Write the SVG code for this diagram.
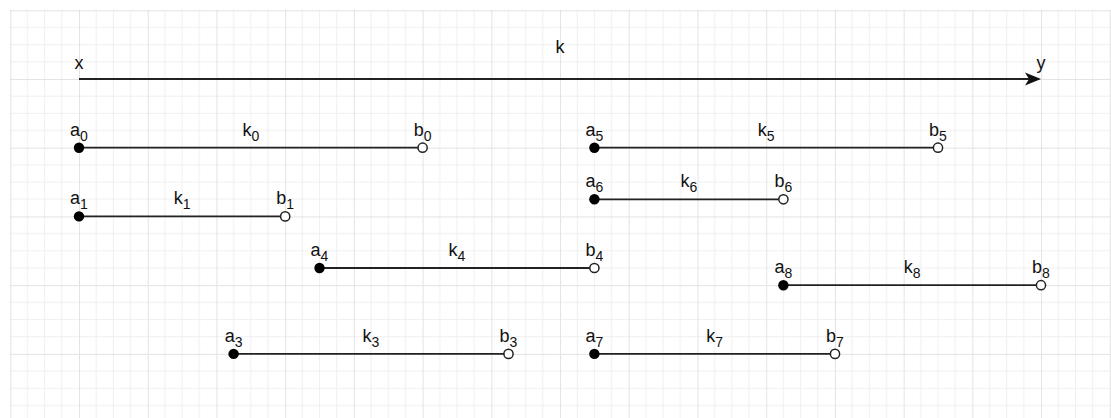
<svg xmlns="http://www.w3.org/2000/svg" width="1111" height="418" viewBox="0 0 1111 418">
  <style>
    .lbl { font-family: "Liberation Sans", Arial, Helvetica, sans-serif; font-size: 18px; fill: #111; text-anchor: middle; }
    .sub { font-size: 14px; }
    .seg { stroke: #222; stroke-width: 1.8; fill: none; }
    .dot { fill: #000; }
    .ring { fill: #fff; stroke: #222; stroke-width: 1.5; }
  </style>
  <defs>
    <!-- 17.18 px minor grid, major line every 4 cells -->
    <pattern id="grid" patternUnits="userSpaceOnUse" x="10.28" y="10.28" width="68.72" height="68.72">
      <path d="M17.18 0V68.72M34.36 0V68.72M51.54 0V68.72M0 17.18H68.72M0 34.36H68.72M0 51.54H68.72" stroke="#f0f0f0" stroke-width="1" fill="none"/>
      <path d="M0.5 0V68.72M0 0.5H68.72" stroke="#e3e3e3" stroke-width="1" fill="none"/>
    </pattern>
  </defs>

  <rect width="1111" height="418" fill="#fff"/>
  <rect x="9.8" y="9.8" width="1102" height="410" fill="url(#grid)"/>

  <!-- main axis x → y -->
  <g id="axis">
    <line class="seg" x1="79" y1="79" x2="1030" y2="79"/>
    <polygon points="1041,79 1025,72.5 1029,79 1025,85.5" fill="#111"/>
    <text class="lbl" x="79" y="69">x</text>
    <text class="lbl" x="560" y="52.5">k</text>
    <text class="lbl" x="1041" y="68.5">y</text>
  </g>

  <!-- intervals [a_i, b_i) -->
  <g id="connectors">
    <line class="seg" x1="79" y1="147.7" x2="422.6" y2="147.7"/>
    <line class="seg" x1="79" y1="216.4" x2="285.2" y2="216.4"/>
    <line class="seg" x1="319.5" y1="268" x2="594.4" y2="268"/>
    <line class="seg" x1="233.6" y1="353.9" x2="508.5" y2="353.9"/>
    <line class="seg" x1="594.4" y1="147.7" x2="938" y2="147.7"/>
    <line class="seg" x1="594.4" y1="199.3" x2="783.4" y2="199.3"/>
    <line class="seg" x1="783.4" y1="285.2" x2="1041" y2="285.2"/>
    <line class="seg" x1="594.4" y1="353.9" x2="835" y2="353.9"/>
  </g>

  <g id="seg0">
    <circle class="dot" cx="79" cy="147.7" r="5.2"/>
    <circle class="ring" cx="422.6" cy="147.7" r="4.6"/>
    <text class="lbl" x="79" y="135.7">a<tspan class="sub" dy="5">0</tspan></text>
    <text class="lbl" x="250.8" y="135.7">k<tspan class="sub" dy="5">0</tspan></text>
    <text class="lbl" x="422.6" y="135.7">b<tspan class="sub" dy="5">0</tspan></text>
  </g>

  <g id="seg1">
    <circle class="dot" cx="79" cy="216.4" r="5.2"/>
    <circle class="ring" cx="285.2" cy="216.4" r="4.6"/>
    <text class="lbl" x="79" y="204.4">a<tspan class="sub" dy="5">1</tspan></text>
    <text class="lbl" x="182.1" y="204.4">k<tspan class="sub" dy="5">1</tspan></text>
    <text class="lbl" x="285.2" y="204.4">b<tspan class="sub" dy="5">1</tspan></text>
  </g>

  <g id="seg4">
    <circle class="dot" cx="319.5" cy="268" r="5.2"/>
    <circle class="ring" cx="594.4" cy="268" r="4.6"/>
    <text class="lbl" x="319.5" y="256">a<tspan class="sub" dy="5">4</tspan></text>
    <text class="lbl" x="457" y="256">k<tspan class="sub" dy="5">4</tspan></text>
    <text class="lbl" x="594.4" y="256">b<tspan class="sub" dy="5">4</tspan></text>
  </g>

  <g id="seg3">
    <circle class="dot" cx="233.6" cy="353.9" r="5.2"/>
    <circle class="ring" cx="508.5" cy="353.9" r="4.6"/>
    <text class="lbl" x="233.6" y="341.9">a<tspan class="sub" dy="5">3</tspan></text>
    <text class="lbl" x="371" y="341.9">k<tspan class="sub" dy="5">3</tspan></text>
    <text class="lbl" x="508.5" y="341.9">b<tspan class="sub" dy="5">3</tspan></text>
  </g>

  <g id="seg5">
    <circle class="dot" cx="594.4" cy="147.7" r="5.2"/>
    <circle class="ring" cx="938" cy="147.7" r="4.6"/>
    <text class="lbl" x="594.4" y="135.7">a<tspan class="sub" dy="5">5</tspan></text>
    <text class="lbl" x="766.2" y="135.7">k<tspan class="sub" dy="5">5</tspan></text>
    <text class="lbl" x="938" y="135.7">b<tspan class="sub" dy="5">5</tspan></text>
  </g>

  <g id="seg6">
    <circle class="dot" cx="594.4" cy="199.3" r="5.2"/>
    <circle class="ring" cx="783.4" cy="199.3" r="4.6"/>
    <text class="lbl" x="594.4" y="187.3">a<tspan class="sub" dy="5">6</tspan></text>
    <text class="lbl" x="688.9" y="187.3">k<tspan class="sub" dy="5">6</tspan></text>
    <text class="lbl" x="783.4" y="187.3">b<tspan class="sub" dy="5">6</tspan></text>
  </g>

  <g id="seg8">
    <circle class="dot" cx="783.4" cy="285.2" r="5.2"/>
    <circle class="ring" cx="1041" cy="285.2" r="4.6"/>
    <text class="lbl" x="783.4" y="273.2">a<tspan class="sub" dy="5">8</tspan></text>
    <text class="lbl" x="912.2" y="273.2">k<tspan class="sub" dy="5">8</tspan></text>
    <text class="lbl" x="1041" y="273.2">b<tspan class="sub" dy="5">8</tspan></text>
  </g>

  <g id="seg7">
    <circle class="dot" cx="594.4" cy="353.9" r="5.2"/>
    <circle class="ring" cx="835" cy="353.9" r="4.6"/>
    <text class="lbl" x="594.4" y="341.9">a<tspan class="sub" dy="5">7</tspan></text>
    <text class="lbl" x="714.7" y="341.9">k<tspan class="sub" dy="5">7</tspan></text>
    <text class="lbl" x="835" y="341.9">b<tspan class="sub" dy="5">7</tspan></text>
  </g>
</svg>
